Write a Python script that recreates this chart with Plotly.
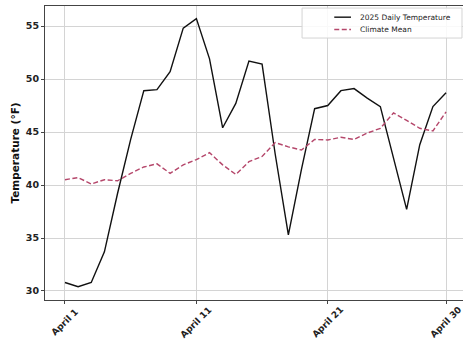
import plotly.graph_objects as go

# Day of month (April 2025)
days = list(range(1, 31))

daily_temp = [30.8, 30.4, 30.8, 33.7, 39.2, 44.3, 48.9, 49.0, 50.7, 54.8,
              55.7, 51.9, 45.4, 47.7, 51.7, 51.4, 42.9, 35.3, 41.5, 47.2,
              47.5, 48.9, 49.1, 48.2, 47.4, 42.5, 37.7, 43.8, 47.4, 48.7]

climate_mean = [40.5, 40.7, 40.1, 40.5, 40.4, 41.1, 41.7, 42.0, 41.1, 41.9,
                42.4, 43.05, 41.9, 41.0, 42.2, 42.7, 44.0, 43.6, 43.3, 44.3,
                44.25, 44.5, 44.3, 44.9, 45.35, 46.8, 46.1, 45.35, 45.1, 46.9]

series_names = ["2025 Daily Temperature", "Climate Mean"]
tick_days = [1, 11, 21, 30]
tick_labels = ["April 1", "April 11", "April 21", "April 30"]
y_ticks = [30, 35, 40, 45, 50, 55]

FONT = "DejaVu Sans"
BLACK = "#111111"
ROSE = "#b5476b"
DASH = "5px,2.5px"

fig = go.Figure()
fig.add_trace(go.Scatter(x=days, y=daily_temp, mode="lines", name=series_names[0],
                         line=dict(color=BLACK, width=1.4), showlegend=False))
fig.add_trace(go.Scatter(x=days, y=climate_mean, mode="lines", name=series_names[1],
                         line=dict(color=ROSE, width=1.4, dash=DASH), showlegend=False))

# Rotated date labels centred under their ticks
annotations = []
for d, lab in zip(tick_days, tick_labels):
    annotations.append(dict(x=d, xref="x", y=0, yref="paper", yshift=-22,
                            text=lab, showarrow=False, textangle=-45,
                            xanchor="center", yanchor="middle",
                            font=dict(size=9, family=FONT, weight="bold", color="#222")))

# Compact legend box in the upper-right corner
shapes = [dict(type="rect", xref="paper", yref="paper",
               x0=0.615, x1=0.9976, y0=0.891, y1=0.993,
               line=dict(color="#d4d4d4", width=1), fillcolor="rgba(255,255,255,0.85)",
               layer="above")]
legend_rows = [(series_names[0], BLACK, "solid", 0.962), (series_names[1], ROSE, DASH, 0.920)]
for name, color, dash, yy in legend_rows:
    shapes.append(dict(type="line", xref="paper", yref="paper",
                       x0=0.692, x1=0.732, y0=yy, y1=yy,
                       line=dict(color=color, width=1.4, dash=dash), layer="above"))
    annotations.append(dict(x=0.748, xref="paper", y=yy, yref="paper", text=name,
                            showarrow=False, xanchor="left", yanchor="middle",
                            font=dict(size=7.5, family=FONT, color="#222")))

fig.update_layout(
    width=463, height=341,
    margin=dict(l=45, r=0, t=6, b=41),
    paper_bgcolor="white", plot_bgcolor="white",
    font=dict(family=FONT, color="#222222"),
    showlegend=False,
    annotations=annotations,
    shapes=shapes,
)
fig.update_xaxes(
    range=[-0.52, 31.29], tickmode="array", tickvals=tick_days,
    showticklabels=False,
    showgrid=True, gridcolor="#d4d4d4", gridwidth=1,
    showline=True, linecolor="#444444", linewidth=1, mirror=True,
    ticks="outside", ticklen=3, tickcolor="#444444", zeroline=False,
)
fig.update_yaxes(
    range=[29.15, 56.89], tickmode="array", tickvals=y_ticks,
    tickfont=dict(size=9.5, family=FONT, weight="bold", color="#222"),
    title=dict(text="Temperature (°F)", font=dict(size=10.5, family=FONT, weight="bold", color="#111"), standoff=4),
    showgrid=True, gridcolor="#d4d4d4", gridwidth=1,
    showline=True, linecolor="#444444", linewidth=1, mirror=False,
    ticks="outside", ticklen=3, tickcolor="#444444", zeroline=False,
)

fig.write_html("out.html")
